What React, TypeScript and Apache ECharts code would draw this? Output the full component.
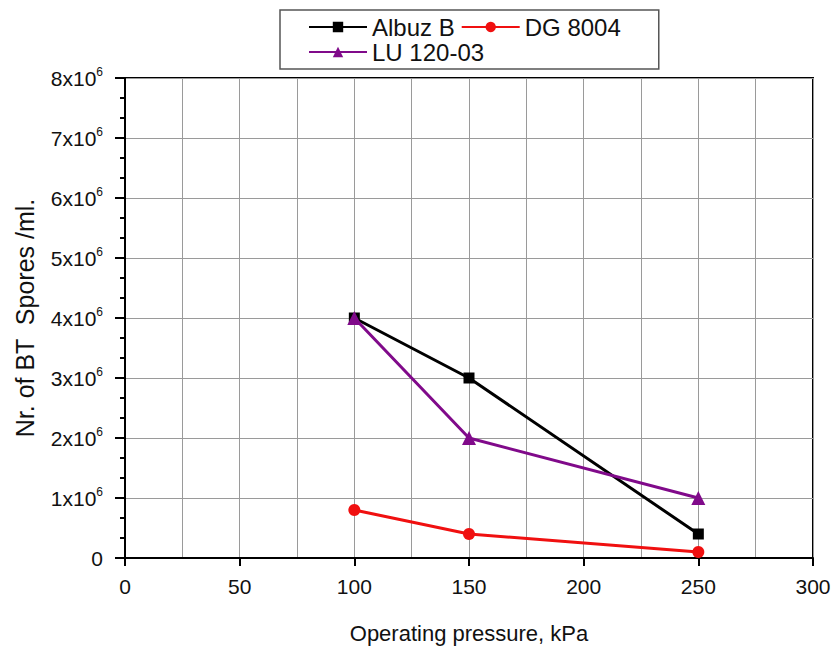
import React, { useEffect, useRef } from "react";
import * as echarts from "echarts";

const pressures = [100, 150, 250];
const albuzB = [4.0e6, 3.0e6, 0.4e6];
const dg8004 = [0.8e6, 0.4e6, 0.1e6];
const lu12003 = [4.0e6, 2.0e6, 1.0e6];
const seriesNames = ["Albuz B", "DG 8004", "LU 120-03"];
const xTicks = { min: 0, max: 300, interval: 50 };
const yTicks = { min: 0, max: 8e6, interval: 1e6, minorSplit: 3 };

const FONT = "'Liberation Sans', Arial, Helvetica, sans-serif";

function pairs(xs: number[], ys: number[]) {
  return xs.map((x, i) => [x, ys[i]]);
}

export default function App() {
  const ref = useRef<HTMLDivElement>(null);
  useEffect(() => {
    document.body.style.margin = "0";
    if (!ref.current) return;
    const chart = echarts.init(ref.current, null, { renderer: "svg" });
    const grid = "#9a9a9a";
    chart.setOption({
      animation: false,
      backgroundColor: "#ffffff",
      textStyle: { fontFamily: FONT },
      grid: {
        left: 125,
        right: 22,
        top: 78,
        bottom: 86,
        show: true,
        borderColor: "#000",
        borderWidth: 2,
        backgroundColor: "transparent",
      },
      legend: {
        left: 280,
        top: 10,
        width: 345,
        orient: "horizontal",
        padding: [5, 33, 5, 28],
        itemGap: 1,
        itemWidth: 58,
        itemHeight: 13,
        borderColor: "#555",
        borderWidth: 1.5,
        borderRadius: 0,
        textStyle: { fontSize: 24, lineHeight: 20, color: "#111", fontFamily: FONT, padding: [0, 5, 0, 0] },
        data: seriesNames,
      },
      xAxis: {
        type: "value",
        min: xTicks.min,
        max: xTicks.max,
        interval: xTicks.interval,
        name: "Operating pressure, kPa",
        nameLocation: "middle",
        nameGap: 64,
        nameTextStyle: { fontSize: 22, color: "#111", fontFamily: FONT },
        axisLine: { show: true, onZero: false, lineStyle: { color: "#000", width: 2 } },
        axisTick: { show: true, length: 8, lineStyle: { color: "#000", width: 2 } },
        axisLabel: { fontSize: 21, color: "#111", margin: 18, fontFamily: FONT },
        splitLine: { show: true, lineStyle: { color: grid, width: 1 } },
        minorTick: { show: false, splitNumber: 2 },
        minorSplitLine: { show: true, lineStyle: { color: grid, width: 1 } },
      },
      yAxis: {
        type: "value",
        min: yTicks.min,
        max: yTicks.max,
        interval: yTicks.interval,
        name: "Nr. of BT  Spores /ml.",
        nameLocation: "middle",
        nameGap: 88,
        nameRotate: 90,
        nameTextStyle: { fontSize: 25, color: "#111", fontFamily: FONT },
        axisLine: { show: true, lineStyle: { color: "#000", width: 2 } },
        axisTick: { show: true, length: 10, lineStyle: { color: "#000", width: 2 } },
        minorTick: { show: true, splitNumber: yTicks.minorSplit, length: 5, lineStyle: { color: "#000", width: 2 } },
        axisLabel: {
          margin: 22,
          color: "#111",
          fontSize: 21,
          fontFamily: FONT,
          formatter: (v: number) => (v === 0 ? "0" : `{b|${Math.round(v / 1e6)}x10}{s|6}`),
          rich: {
            b: { fontSize: 21, color: "#111", fontFamily: FONT, lineHeight: 24 },
            s: { fontSize: 12, color: "#111", fontFamily: FONT, verticalAlign: "top", lineHeight: 24 },
          },
        },
        splitLine: { show: true, lineStyle: { color: grid, width: 1 } },
      },
      series: [
        {
          name: seriesNames[0],
          type: "line",
          data: pairs(pressures, albuzB),
          symbol: "rect",
          symbolSize: 11,
          color: "#000000",
          lineStyle: { color: "#000000", width: 3 },
          itemStyle: { color: "#000000" },
          z: 3,
        },
        {
          name: seriesNames[1],
          type: "line",
          data: pairs(pressures, dg8004),
          symbol: "circle",
          symbolSize: 12,
          color: "#f01010",
          lineStyle: { color: "#f01010", width: 3 },
          itemStyle: { color: "#f01010" },
          z: 3,
        },
        {
          name: seriesNames[2],
          type: "line",
          data: pairs(pressures, lu12003),
          symbol: "triangle",
          symbolSize: 14,
          color: "#800a8a",
          lineStyle: { color: "#800a8a", width: 3 },
          itemStyle: { color: "#800a8a" },
          z: 4,
        },
      ],
    });
    return () => chart.dispose();
  }, []);
  return <div ref={ref} style={{ width: 835, height: 649 }} />;
}
